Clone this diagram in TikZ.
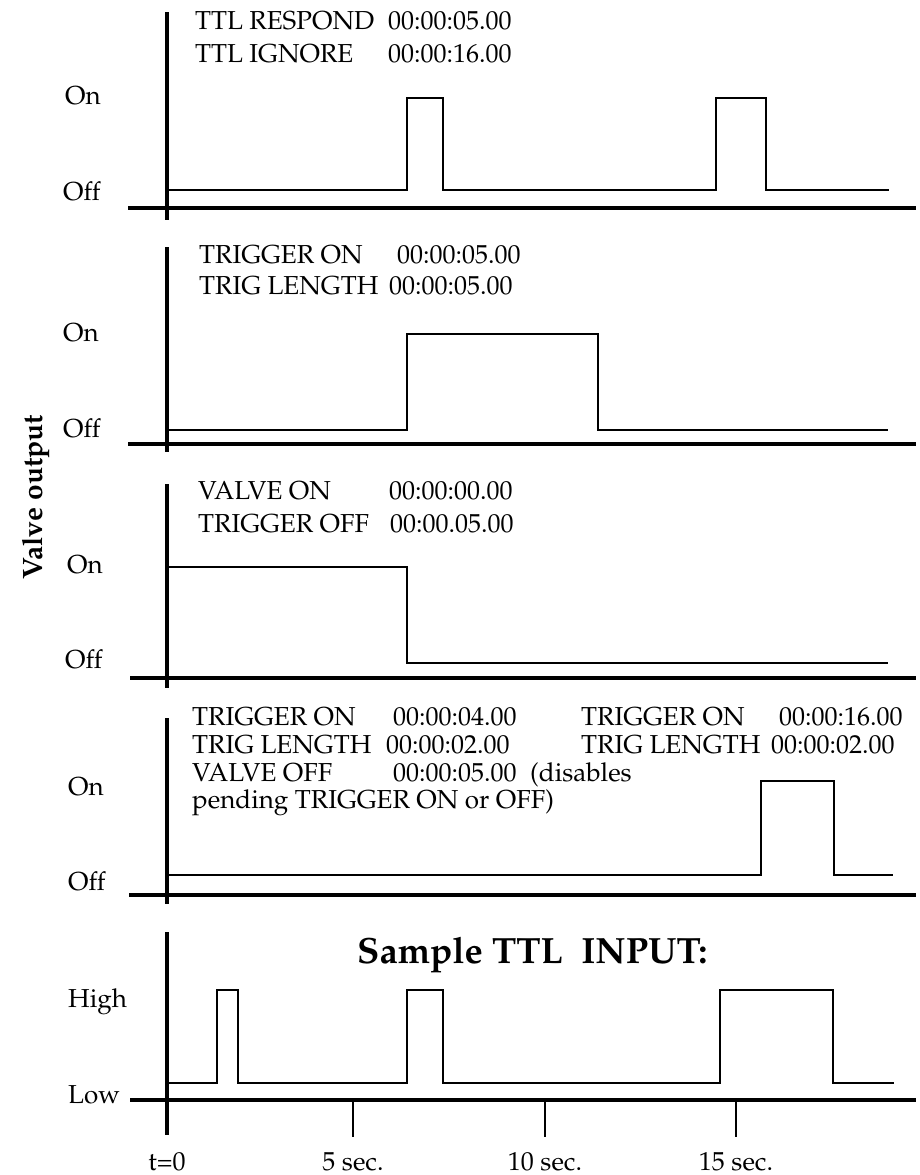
\documentclass[tikz,border=0pt]{standalone}
\usepackage[T1]{fontenc}
\usepackage{mathpazo}
\begin{document}
\begin{tikzpicture}[x=1pt,y=-1pt,
  axis/.style={line width=4.5pt},
  sig/.style={line width=2.4pt,line join=miter},
  tickline/.style={line width=2pt},
  txt/.style={anchor=base west,inner sep=0pt,font=\fontsize{26}{30}\selectfont},
  ticklbl/.style={anchor=base,inner sep=0pt,font=\fontsize{26}{30}\selectfont},
  boldlbl/.style={inner sep=0pt,font=\fontsize{28}{32}\selectfont\bfseries},
  titlelbl/.style={anchor=base west,inner sep=0pt,font=\fontsize{36.5}{42}\selectfont\bfseries}]
\useasboundingbox (0,0) rectangle (920,1175);

% ---------- Panel 1 ----------
\draw[sig] (167,190) -- (407,190) -- (407,98) -- (443,98) -- (443,190) -- (716,190) -- (716,98) -- (766,98) -- (766,190) -- (889,190);
\draw[axis] (167,12) -- (167,220);
\draw[axis] (128,208) -- (916,208);
\node[txt] (p1a) at (195,29) {TTL RESPOND};
\node[txt] (p1b) at (388,29) {00:00:05.00};
\node[txt] (p1c) at (195,62) {TTL IGNORE};
\node[txt] (p1d) at (388,62) {00:00:16.00};
\node[txt] (p1on) at (65,104) {On};
\node[txt] (p1off) at (63,200) {Off};

% ---------- Panel 2 ----------
\draw[sig] (167,430) -- (407,430) -- (407,334) -- (598,334) -- (598,430) -- (888,430);
\draw[axis] (167,247) -- (167,452);
\draw[axis] (128,444) -- (916,444);
\node[txt] (p2a) at (199,263) {TRIGGER ON};
\node[txt] (p2b) at (397,263) {00:00:05.00};
\node[txt] (p2c) at (199,294) {TRIG LENGTH};
\node[txt] (p2d) at (389,294) {00:00:05.00};
\node[txt] (p2on) at (63,341) {On};
\node[txt] (p2off) at (63,437) {Off};

% ---------- Panel 3 ----------
\draw[sig] (167,567) -- (407,567) -- (407,663) -- (888,663);
\draw[axis] (167,484) -- (167,688);
\draw[axis] (130,678) -- (916,678);
\node[txt] (p3a) at (198,499) {VALVE ON};
\node[txt] (p3b) at (389,499) {00:00:00.00};
\node[txt] (p3c) at (198,532) {TRIGGER OFF};
\node[txt] (p3d) at (390,532) {00:00.05.00};
\node[txt] (p3on) at (67,573) {On};
\node[txt] (p3off) at (65,668) {Off};

% ---------- Panel 4 ----------
\draw[sig] (167,875) -- (761,875) -- (761,781) -- (834,781) -- (834,875) -- (893,875);
\draw[axis] (167,718) -- (167,904);
\draw[axis] (129,895) -- (916,895);
\node[txt] (p4a) at (192,725) {TRIGGER ON};
\node[txt] (p4b) at (393,725) {00:00:04.00};
\node[txt] (p4c) at (192,753) {TRIG LENGTH};
\node[txt] (p4d) at (386,753) {00:00:02.00};
\node[txt] (p4e) at (192,781) {VALVE OFF};
\node[txt] (p4f) at (393,781) {00:00:05.00};
\node[txt] (p4g) at (530,781) {(disables};
\node[txt] (p4h) at (192,808) {pending TRIGGER ON or OFF)};
\node[txt] (p4i) at (581,725) {TRIGGER ON};
\node[txt] (p4j) at (779,725) {00:00:16.00};
\node[txt] (p4k) at (581,753) {TRIG LENGTH};
\node[txt] (p4l) at (771,753) {00:00:02.00};
\node[txt] (p4on) at (68,795) {On};
\node[txt] (p4off) at (68,890) {Off};

% ---------- Panel 5 (TTL input) ----------
\draw[sig] (167,1083) -- (217,1083) -- (217,990) -- (238,990) -- (238,1083) -- (407,1083) -- (407,990) -- (443,990) -- (443,1083) -- (720,1083) -- (720,990) -- (833,990) -- (833,1083) -- (894,1083);
\draw[tickline] (353,1100) -- (353,1137);
\draw[tickline] (545,1100) -- (545,1137);
\draw[tickline] (736,1100) -- (736,1137);
\draw[axis] (167,932) -- (167,1135);
\draw[axis] (130,1100) -- (916,1100);
\node[titlelbl] (title) at (357,963) {Sample TTL\ \ INPUT:};
\node[txt] (high) at (68,1007) {High};
\node[txt] (low) at (68,1103) {Low};
\node[ticklbl] (t0) at (167,1170) {t=0};
\node[ticklbl] (t5) at (353,1170) {5 sec.};
\node[ticklbl] (t10) at (545,1170) {10 sec.};
\node[ticklbl] (t15) at (736,1170) {15 sec.};

% ---------- Y label ----------
\node[boldlbl,rotate=90,anchor=base] (ylabel) at (42,497) {Valve output};
\end{tikzpicture}
\end{document}
